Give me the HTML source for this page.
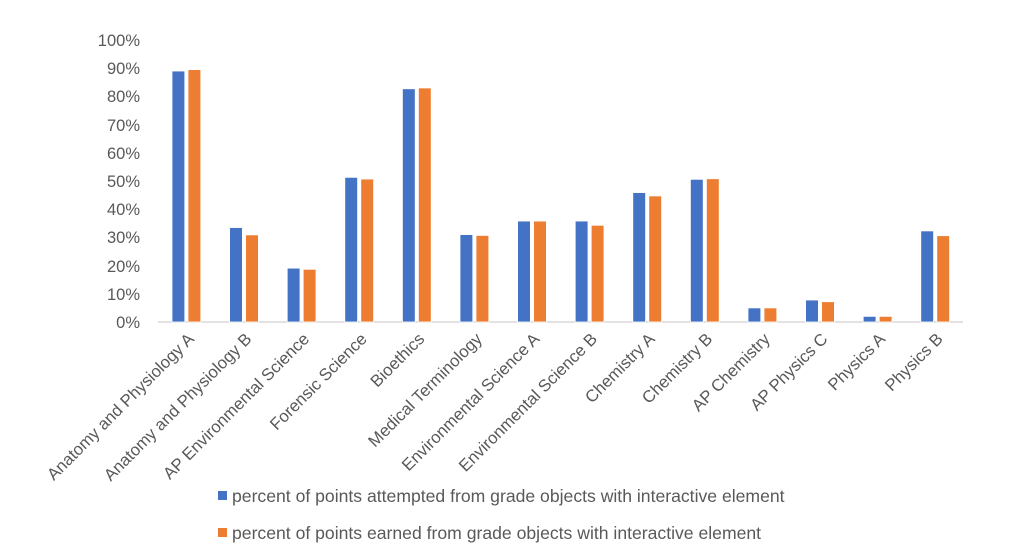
<!DOCTYPE html>
<html><head><meta charset="utf-8"><style>
html,body{margin:0;padding:0;background:#fff;}
svg{display:block;font-family:"Liberation Sans",Arial,sans-serif;}
</style></head><body>
<svg width="1024" height="560" viewBox="0 0 1024 560" xmlns="http://www.w3.org/2000/svg">
<g fill="#595959" font-size="16.5" text-anchor="end">
<text x="140" y="46">100%</text>
<text x="140" y="74">90%</text>
<text x="140" y="102">80%</text>
<text x="140" y="131">70%</text>
<text x="140" y="159">60%</text>
<text x="140" y="187">50%</text>
<text x="140" y="215">40%</text>
<text x="140" y="243">30%</text>
<text x="140" y="272">20%</text>
<text x="140" y="300">10%</text>
<text x="140" y="328">0%</text>
</g>
<line x1="158" y1="322" x2="963" y2="322" stroke="#d9d9d9" stroke-width="1.5"/>
<g id="bars" stroke="#fff" stroke-width="0.8"></g>
<g id="labels" fill="#595959" font-size="16.8" text-anchor="end"></g>
<rect x="218" y="491" width="9" height="9" fill="#4472c4"/>
<text x="232" y="502" font-size="17.6" fill="#595959">percent of points attempted from grade objects with interactive element</text>
<rect x="218" y="528" width="9" height="9" fill="#ed7d31"/>
<text x="232" y="539" font-size="17.6" fill="#595959">percent of points earned from grade objects with interactive element</text>
<script>
var names=["Anatomy and Physiology A","Anatomy and Physiology B","AP Environmental Science","Forensic Science","Bioethics","Medical Terminology","Environmental Science A","Environmental Science B","Chemistry A","Chemistry B","AP Chemistry","AP Physics C","Physics A","Physics B"];
var a=[89,33.5,19.1,51.3,82.7,31,35.8,35.8,45.9,50.6,5,7.8,2,32.3];
var b=[89.5,30.9,18.7,50.7,83,30.7,35.8,34.3,44.7,50.8,5,7.2,2,30.6];
var ns="http://www.w3.org/2000/svg",g=document.getElementById("bars"),L=document.getElementById("labels");
for(var i=0;i<14;i++){
 var x=172+i*57.6;
 [[a[i],"#4472c4",x],[b[i],"#ed7d31",x+16]].forEach(function(d){
  var r=document.createElementNS(ns,"rect");var h=d[0]*2.82;
  r.setAttribute("x",d[2]);r.setAttribute("y",322-h);r.setAttribute("width",12.8);r.setAttribute("height",h);r.setAttribute("fill",d[1]);g.appendChild(r);});
 var cx=x+14,t=document.createElementNS(ns,"text");
 t.setAttribute("transform","translate("+(cx+9)+",340) rotate(-45)");
 t.textContent=names[i];L.appendChild(t);
}
</script>
</svg>
</body></html>
